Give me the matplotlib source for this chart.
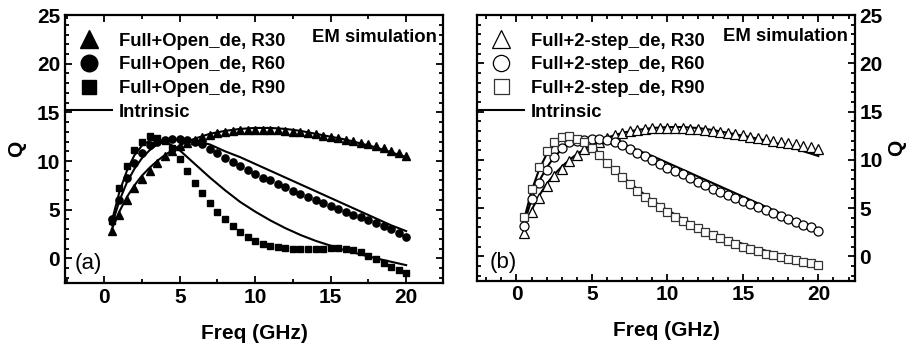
import matplotlib
matplotlib.use("Agg")
import matplotlib.pyplot as plt
from matplotlib.ticker import MultipleLocator

plt.rcParams['font.family'] = ['Liberation Sans', 'DejaVu Sans']
plt.rcParams['font.weight'] = 'bold'

# frequency grid of the EM simulation points (GHz)
freq = [0.5, 1, 1.5, 2, 2.5, 3, 3.5, 4, 4.5, 5, 5.5, 6, 6.5, 7, 7.5, 8, 8.5, 9, 9.5, 10,
        10.5, 11, 11.5, 12, 12.5, 13, 13.5, 14, 14.5, 15, 15.5, 16, 16.5, 17, 17.5, 18, 18.5, 19, 19.5, 20]

# (a) Full+Open_de
open_r30 = [2.8, 4.5, 6.0, 7.2, 8.2, 9.0, 9.8, 10.5, 11.0, 11.5, 11.9, 12.2, 12.5, 12.7, 12.9, 13.0, 13.1, 13.15, 13.2, 13.2,
            13.2, 13.2, 13.15, 13.1, 13.0, 12.95, 12.85, 12.75, 12.6, 12.5, 12.35, 12.2, 12.05, 11.9, 11.7, 11.5, 11.3, 11.0, 10.8, 10.5]
open_r60 = [4.0, 6.0, 8.3, 9.8, 10.8, 11.6, 12.0, 12.2, 12.3, 12.3, 12.2, 12.0, 11.7, 11.2, 10.8, 10.3, 9.9, 9.5, 9.1, 8.7,
            8.3, 8.0, 7.6, 7.3, 6.9, 6.6, 6.3, 6.0, 5.7, 5.4, 5.1, 4.8, 4.5, 4.2, 3.9, 3.6, 3.3, 3.0, 2.6, 2.2]
open_r90 = [3.8, 7.2, 9.5, 11.1, 12.0, 12.6, 12.4, 12.1, 11.3, 10.2, 9.0, 7.7, 6.7, 5.7, 4.8, 4.0, 3.3, 2.7, 2.2, 1.8,
            1.5, 1.3, 1.15, 1.05, 1.0, 1.0, 1.0, 1.0, 1.0, 1.05, 1.05, 1.0, 0.9, 0.6, 0.2, -0.1, -0.5, -0.9, -1.2, -1.5]

# (b) Full+2-step_de
step_r30 = [2.4, 4.6, 6.1, 7.3, 8.3, 9.1, 9.9, 10.5, 11.1, 11.5, 11.9, 12.3, 12.6, 12.8, 13.0, 13.1, 13.2, 13.3, 13.3, 13.3,
            13.3, 13.3, 13.2, 13.2, 13.1, 13.0, 12.9, 12.8, 12.7, 12.6, 12.4, 12.3, 12.2, 12.0, 11.9, 11.7, 11.6, 11.4, 11.3, 11.1]
step_r60 = [3.2, 5.9, 7.6, 9.0, 10.3, 11.2, 11.8, 12.0, 12.1, 12.2, 12.2, 12.1, 11.8, 11.5, 11.1, 10.7, 10.4, 10.0, 9.6, 9.2,
            8.8, 8.5, 8.1, 7.7, 7.4, 7.0, 6.7, 6.4, 6.0, 5.7, 5.4, 5.1, 4.8, 4.5, 4.2, 3.9, 3.6, 3.3, 3.0, 2.6]
step_r90 = [4.1, 7.0, 9.3, 10.9, 11.9, 12.4, 12.5, 12.2, 11.8, 11.2, 10.5, 9.7, 8.9, 8.2, 7.5, 6.8, 6.2, 5.6, 5.1, 4.6,
            4.1, 3.7, 3.3, 2.9, 2.5, 2.2, 1.9, 1.6, 1.3, 1.0, 0.8, 0.6, 0.3, 0.1, -0.1, -0.3, -0.4, -0.6, -0.7, -0.9]

# intrinsic curves
freq_int = [0.5, 1, 1.5, 2, 2.5, 3, 3.5, 4, 4.5, 5, 5.5, 6, 7, 8, 9, 10, 11, 12, 13, 14, 15, 16, 17, 18, 19, 20]
int_r30 = [3.0, 4.8, 6.3, 7.5, 8.5, 9.3, 10.0, 10.6, 11.1, 11.6, 12.0, 12.3, 12.8, 13.1, 13.3, 13.4,
           13.4, 13.3, 13.1, 12.8, 12.5, 12.2, 11.8, 11.4, 10.9, 10.4]
int_r60 = [3.4, 5.9, 7.8, 9.2, 10.3, 11.1, 11.7, 12.0, 12.2, 12.2, 12.2, 12.1, 11.7, 11.0, 10.4, 9.7,
           9.0, 8.3, 7.6, 6.9, 6.2, 5.5, 4.8, 4.1, 3.4, 2.8]
int_r90 = [3.8, 6.8, 9.0, 10.6, 11.6, 12.1, 12.2, 12.0, 11.6, 11.1, 10.4, 9.7, 8.3, 7.0, 5.8, 4.8,
           3.9, 3.1, 2.4, 1.8, 1.3, 0.8, 0.4, 0.0, -0.35, -0.7]

fig = plt.figure(figsize=(9.09, 3.5), dpi=100)
ax1 = fig.add_axes([0.0715, 0.191, 0.416, 0.766])
ax2 = fig.add_axes([0.525, 0.197, 0.416, 0.760])

lw = 1.5
fs_tick = 15
fs_leg = 13.3


def style_axis(ax, xminor):
    ax.set_xlim(-2.6, 22.45)
    ax.set_ylim(-2.55, 25)
    ax.xaxis.set_major_locator(MultipleLocator(5))
    ax.xaxis.set_minor_locator(MultipleLocator(xminor))
    ax.yaxis.set_major_locator(MultipleLocator(5))
    ax.yaxis.set_minor_locator(MultipleLocator(1))
    ax.tick_params(which='both', direction='in', top=True, right=True, width=1.3, labelsize=fs_tick)
    ax.tick_params(which='major', length=5)
    ax.tick_params(which='minor', length=3)
    for s in ax.spines.values():
        s.set_linewidth(1.6)
    ax.set_xlabel("Freq (GHz)", fontsize=fs_tick, fontweight='bold', labelpad=12)


def add_legend(ax, handles, labels, mscale):
    ax.legend(handles, labels, loc='upper left', bbox_to_anchor=(0.0, 0.934), frameon=False,
              markerscale=mscale, prop={'weight': 'bold', 'size': fs_leg}, handlelength=2.55,
              handletextpad=0.35, labelspacing=0.36, borderpad=0.0, borderaxespad=0.0)


# panel (a)
for y in (int_r30, int_r60, int_r90):
    l_int_a, = ax1.plot(freq_int, y, color='black', lw=lw, zorder=2)
h1, = ax1.plot(freq, open_r30, '^', color='black', ms=5.5, ls='none', zorder=3)
h2, = ax1.plot(freq, open_r60, 'o', color='black', ms=5.2, ls='none', zorder=3)
h3, = ax1.plot(freq, open_r90, 's', color='black', ms=4.5, ls='none', zorder=3)
style_axis(ax1, 2.5)
ax1.set_ylabel("Q", fontsize=fs_tick, fontweight='bold', labelpad=8)
add_legend(ax1, [h1, h2, h3, l_int_a],
           ["Full+Open_de, R30", "Full+Open_de, R60", "Full+Open_de, R90", "Intrinsic"], 2.3)
ax1.text(0.984, 0.918, "EM simulation", transform=ax1.transAxes, ha='right', va='center',
         fontsize=fs_leg, fontweight='bold')
ax1.text(0.026, 0.075, "(a)", transform=ax1.transAxes, ha='left', va='center',
         fontsize=16, fontweight='normal')

# panel (b)
for y in (int_r30, int_r60, int_r90):
    l_int_b, = ax2.plot(freq_int, y, color='black', lw=lw, zorder=2)
g1, = ax2.plot(freq, step_r30, '^', mfc='white', mec='black', mew=0.9, ms=7, ls='none', zorder=3)
g2, = ax2.plot(freq, step_r60, 'o', mfc='white', mec='black', mew=0.9, ms=6.5, ls='none', zorder=3)
g3, = ax2.plot(freq, step_r90, 's', mfc='white', mec='#333333', mew=0.9, ms=6, ls='none', zorder=3)
style_axis(ax2, 1)
ax2.yaxis.set_label_position('right')
ax2.tick_params(which='both', left=True, right=True, labelleft=False, labelright=True, pad=3)
ax2.set_ylabel("Q", fontsize=fs_tick, fontweight='bold', labelpad=3, rotation=90)
add_legend(ax2, [g1, g2, g3, l_int_b],
           ["Full+2-step_de, R30", "Full+2-step_de, R60", "Full+2-step_de, R90", "Intrinsic"], 1.8)
ax2.text(0.981, 0.921, "EM simulation", transform=ax2.transAxes, ha='right', va='center',
         fontsize=fs_leg, fontweight='bold')
ax2.text(0.034, 0.068, "(b)", transform=ax2.transAxes, ha='left', va='center',
         fontsize=16, fontweight='normal')

fig.savefig("out.png", dpi=100)
